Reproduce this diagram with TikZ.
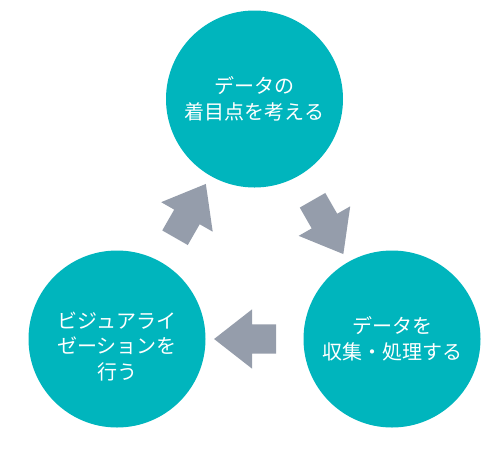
\documentclass[tikz,border=0pt]{standalone}
\usepackage{fontspec}
\newfontfamily\jpfont{Noto Sans CJK JP}
\usetikzlibrary{shapes.arrows}
\definecolor{stageteal}{RGB}{0,181,189}
\definecolor{flowgray}{RGB}{149,157,171}
\begin{document}
\begin{tikzpicture}[x=1pt, y=1pt,
  stage/.style={circle, fill=stageteal, text=white, minimum size=177pt, inner sep=0pt, align=center, font=\jpfont\fontsize{20}{25.5}\selectfont},
  flow/.style={single arrow, fill=flowgray, inner xsep=0pt, inner ysep=14.5pt, minimum height=62pt, single arrow head extend=15pt, single arrow tip angle=76, sloped, allow upside down}]
\useasboundingbox (0,0) rectangle (500,-451);
\node[stage] (think) at (254.5,-99) {データの\\着目点を考える};
\node[stage] (collect) at (392,-339) {データを\\収集・処理する};
\node[stage, text height=82pt] (visual) at (117,-339) {ビジュアライ\\ゼーションを\\行う};

\path (think) -- node[flow] {} (collect);
\path (collect) -- node[flow] {} (visual);
\path (visual) -- node[flow] {} (think);
\end{tikzpicture}
\end{document}
